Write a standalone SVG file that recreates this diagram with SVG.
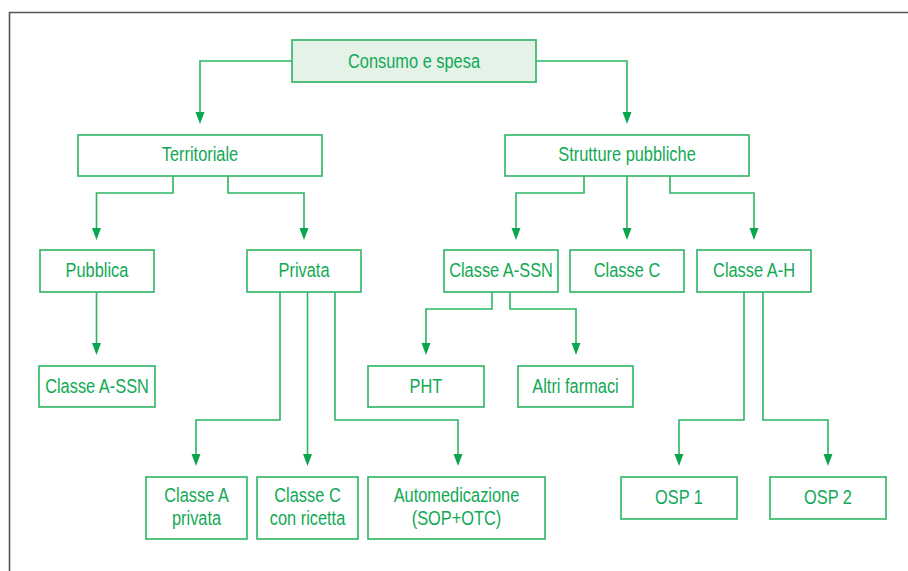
<svg xmlns="http://www.w3.org/2000/svg" width="908" height="571" viewBox="0 0 908 571">
<defs>
<style>
.box{fill:#fff;stroke:#2db564;stroke-width:1.6}
.root{fill:#e4f2e8;stroke:#3fbb72;stroke-width:1.8}
.t{font-family:"Liberation Sans",Arial,sans-serif;font-size:21px;fill:#12a955;text-anchor:middle}
.c{fill:none;stroke:#2db564;stroke-width:1.6}
.ah{fill:#0aa64e}
</style>
</defs>
<rect width="908" height="571" fill="#fff"/>
<path d="M9.5,571 V12.5 H908" fill="none" stroke="#555" stroke-width="1.6"/>
<g id="connectors">
<path class="c" d="M292,61 H200 V112"/>
<path class="c" d="M536,61 H627 V112"/>
<path class="c" d="M173,176 V193 H96.5 V228"/>
<path class="c" d="M228,176 V193 H304 V228"/>
<path class="c" d="M584,176 V193 H516 V228"/>
<path class="c" d="M627,176 V228"/>
<path class="c" d="M670,176 V193 H754 V228"/>
<path class="c" d="M96.5,292 V343"/>
<path class="c" d="M492,292 V309 H426 V343"/>
<path class="c" d="M510,292 V309 H576 V343"/>
<path class="c" d="M280,292 V420 H196 V454"/>
<path class="c" d="M307.5,292 V454"/>
<path class="c" d="M335,292 V420 H458 V454"/>
<path class="c" d="M744,292 V420 H679 V454"/>
<path class="c" d="M763,292 V420 H828 V454"/>
<g class="ah">
<path d="M195.5,112 h9 l-4.5,12 z"/>
<path d="M622.5,112 h9 l-4.5,12 z"/>
<path d="M92,228 h9 l-4.5,12 z"/>
<path d="M299.5,228 h9 l-4.5,12 z"/>
<path d="M511.5,228 h9 l-4.5,12 z"/>
<path d="M622.5,228 h9 l-4.5,12 z"/>
<path d="M749.5,228 h9 l-4.5,12 z"/>
<path d="M92,343 h9 l-4.5,12 z"/>
<path d="M421.5,343 h9 l-4.5,12 z"/>
<path d="M571.5,343 h9 l-4.5,12 z"/>
<path d="M191.5,454 h9 l-4.5,12 z"/>
<path d="M303,454 h9 l-4.5,12 z"/>
<path d="M453.5,454 h9 l-4.5,12 z"/>
<path d="M674.5,454 h9 l-4.5,12 z"/>
<path d="M823.5,454 h9 l-4.5,12 z"/>
</g>
</g>
<g id="n-consumo"><rect class="root" x="292" y="40" width="244" height="42"/><text class="t" transform="translate(414,68) scale(0.78,1)">Consumo e spesa</text></g>
<g id="n-territoriale"><rect class="box" x="78" y="135" width="244" height="41"/><text class="t" transform="translate(200,161) scale(0.78,1)">Territoriale</text></g>
<g id="n-strutture"><rect class="box" x="505" y="135" width="244" height="41"/><text class="t" transform="translate(627,161) scale(0.78,1)">Strutture pubbliche</text></g>
<g id="n-pubblica"><rect class="box" x="40" y="250" width="114" height="42"/><text class="t" transform="translate(97,277) scale(0.78,1)">Pubblica</text></g>
<g id="n-privata"><rect class="box" x="247" y="250" width="114" height="42"/><text class="t" transform="translate(304,277) scale(0.78,1)">Privata</text></g>
<g id="n-classeassn2"><rect class="box" x="444" y="250" width="114" height="42"/><text class="t" transform="translate(501,277) scale(0.78,1)">Classe A-SSN</text></g>
<g id="n-classec"><rect class="box" x="570" y="250" width="114" height="42"/><text class="t" transform="translate(627,277) scale(0.78,1)">Classe C</text></g>
<g id="n-classeah"><rect class="box" x="697" y="250" width="114" height="42"/><text class="t" transform="translate(754,277) scale(0.78,1)">Classe A-H</text></g>
<g id="n-classeassn1"><rect class="box" x="39" y="366" width="116" height="41"/><text class="t" transform="translate(97,393) scale(0.78,1)">Classe A-SSN</text></g>
<g id="n-pht"><rect class="box" x="368" y="366" width="116" height="41"/><text class="t" transform="translate(426,393) scale(0.78,1)">PHT</text></g>
<g id="n-altri"><rect class="box" x="518" y="366" width="115" height="41"/><text class="t" transform="translate(575.5,393) scale(0.78,1)">Altri farmaci</text></g>
<g id="n-classeapriv"><rect class="box" x="146" y="477" width="101" height="62"/><text class="t" transform="translate(196.5,502) scale(0.78,1)">Classe A</text><text class="t" transform="translate(196.5,525) scale(0.78,1)">privata</text></g>
<g id="n-classecric"><rect class="box" x="257" y="477" width="101" height="62"/><text class="t" transform="translate(307.5,502) scale(0.78,1)">Classe C</text><text class="t" transform="translate(307.5,525) scale(0.78,1)">con ricetta</text></g>
<g id="n-automed"><rect class="box" x="368" y="477" width="177" height="62"/><text class="t" transform="translate(456.5,502) scale(0.78,1)">Automedicazione</text><text class="t" transform="translate(456.5,525) scale(0.78,1)">(SOP+OTC)</text></g>
<g id="n-osp1"><rect class="box" x="621" y="477" width="116" height="42"/><text class="t" transform="translate(679,504) scale(0.78,1)">OSP 1</text></g>
<g id="n-osp2"><rect class="box" x="770" y="477" width="116" height="42"/><text class="t" transform="translate(828,504) scale(0.78,1)">OSP 2</text></g>
</svg>
